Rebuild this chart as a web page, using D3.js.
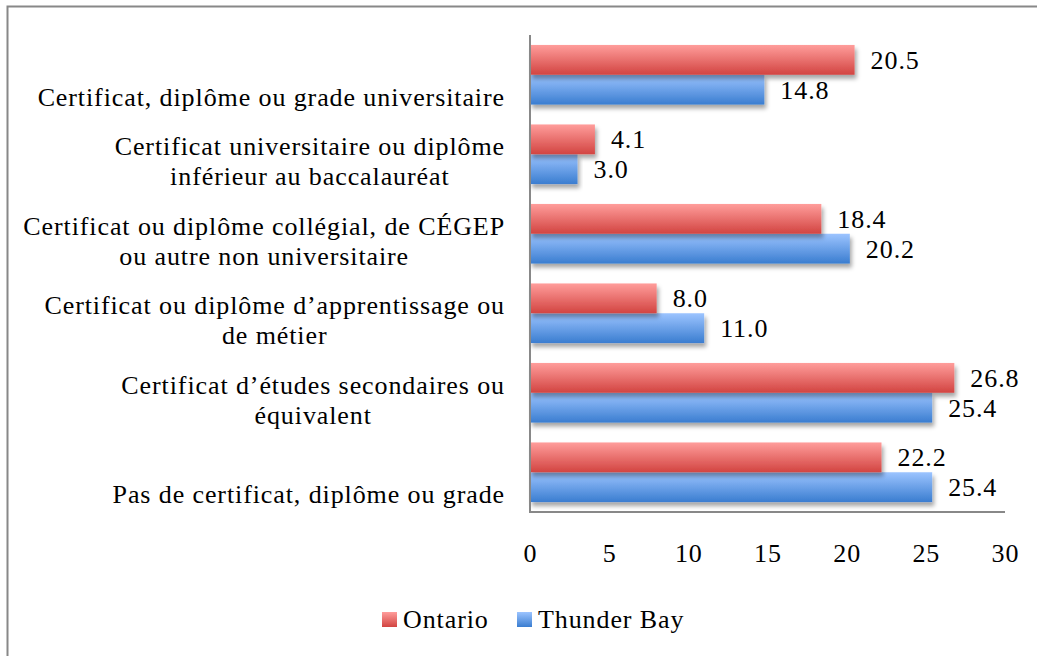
<!DOCTYPE html>
<html>
<head>
<meta charset="utf-8">
<script src="https://cdn.jsdelivr.net/npm/d3@7"></script>
<style>
  html, body { margin: 0; padding: 0; background: #fff; }
  svg { display: block; }
  text { font-family: "Liberation Serif", "DejaVu Serif", serif; fill: #000; letter-spacing: 0.9px; }
</style>
</head>
<body>
<svg id="chart" width="1037" height="656"></svg>
<script>
const categories = [
  ["Certificat, diplôme ou grade universitaire"],
  ["Certificat universitaire ou diplôme", "inférieur au baccalauréat"],
  ["Certificat ou diplôme collégial, de CÉGEP", "ou autre non universitaire"],
  ["Certificat ou diplôme d’apprentissage ou", "de métier"],
  ["Certificat d’études secondaires ou", "équivalent"],
  ["Pas de certificat, diplôme ou grade"]
];
const seriesNames = ["Ontario", "Thunder Bay"];
const ontario = [20.5, 4.1, 18.4, 8.0, 26.8, 22.2];
const thunderBay = [14.8, 3.0, 20.2, 11.0, 25.4, 25.4];
const xTicks = [0, 5, 10, 15, 20, 25, 30];

(function () {
const svg = d3.select("#chart");
const FS = 26;

// outer frame
svg.append("rect").attr("x", 7.5).attr("y", 6.5).attr("width", 1100).attr("height", 700)
  .attr("fill", "none").attr("stroke", "#888").attr("stroke-width", 2);

const defs = svg.append("defs");
function grad(id, c1, c2) {
  const g = defs.append("linearGradient").attr("id", id)
    .attr("x1", 0).attr("y1", 0).attr("x2", 0).attr("y2", 1);
  g.append("stop").attr("offset", "0%").attr("stop-color", c1);
  g.append("stop").attr("offset", "100%").attr("stop-color", c2);
}
grad("gRed", "#ff9d9b", "#d24441");
grad("gBlue", "#9cc4ff", "#3a7dd0");
const f = defs.append("filter").attr("id", "shadow")
  .attr("x", "-5%").attr("y", "-20%").attr("width", "115%").attr("height", "160%");
f.append("feDropShadow").attr("dx", 2).attr("dy", 4).attr("stdDeviation", 2)
  .attr("flood-color", "#000").attr("flood-opacity", 0.35);

const pLeft = 530, pRight = 1005, pTop = 35, pBottom = 512;
const x = d3.scaleLinear().domain([0, 30]).range([pLeft, pRight]);
const y = d3.scaleBand().domain(d3.range(categories.length)).range([pTop, pBottom])
  .paddingInner(0.25).paddingOuter(0.125);
const ySub = d3.scaleBand().domain(seriesNames).range([0, y.bandwidth()]);

const data = categories.map((c, i) => ({ i, vals: [
  { s: "Ontario", v: ontario[i] },
  { s: "Thunder Bay", v: thunderBay[i] }
]}));
const fills = { "Ontario": "url(#gRed)", "Thunder Bay": "url(#gBlue)" };

const groups = svg.append("g").selectAll("g").data(data).join("g")
  .attr("transform", d => `translate(0,${y(d.i)})`);

groups.selectAll("rect").data(d => d.vals.slice().reverse()).join("rect")
  .attr("x", x(0))
  .attr("y", d => ySub(d.s))
  .attr("width", d => x(d.v) - x(0))
  .attr("height", ySub.bandwidth())
  .attr("fill", d => fills[d.s])
  .attr("filter", "url(#shadow)");

groups.selectAll("text.val").data(d => d.vals).join("text")
  .attr("class", "val")
  .attr("x", d => x(d.v) + 16)
  .attr("y", d => ySub(d.s) + ySub.bandwidth() / 2 + 9)
  .attr("font-size", FS)
  .text(d => d.v.toFixed(1));

// axes
const axisG = svg.append("g");
axisG.append("line").attr("x1", pLeft).attr("x2", pLeft).attr("y1", pTop).attr("y2", pBottom + 1)
  .attr("stroke", "#888").attr("stroke-width", 2);
axisG.append("line").attr("x1", pLeft - 1).attr("x2", pRight).attr("y1", pBottom).attr("y2", pBottom)
  .attr("stroke", "#888").attr("stroke-width", 2);

const xAxis = d3.axisBottom(x).tickValues(xTicks).tickSize(0).tickPadding(0).tickFormat(d3.format("d"));
const xa = svg.append("g").attr("transform", `translate(0,${pBottom})`).call(xAxis);
xa.select(".domain").remove();
xa.selectAll("text").attr("font-size", FS).attr("font-family", "Liberation Serif, serif")
  .attr("fill", "#000").attr("dy", null).attr("y", 50);

// category labels
const labelRight = 505;
const lineH = 30;
const labG = svg.append("g");
categories.forEach((lines, i) => {
  const cy = y(i) + y.bandwidth() / 2;
  const t = labG.append("text").attr("font-size", FS);
  const tspans = lines.map(ln => t.append("tspan").text(ln));
  const widths = tspans.map(ts => ts.node().getComputedTextLength());
  const maxW = d3.max(widths);
  const cx = labelRight - maxW / 2;
  const n = lines.length;
  tspans.forEach((ts, k) => {
    ts.attr("x", cx).attr("text-anchor", "middle")
      .attr("y", cy + 31 - (n - 1 - k) * lineH);
  });
});

// legend
const legend = svg.append("g");
const legItems = [
  { s: "Ontario", x: 382 },
  { s: "Thunder Bay", x: 517 }
];
legItems.forEach(it => {
  legend.append("rect").attr("x", it.x).attr("y", 612).attr("width", 15).attr("height", 15)
    .attr("fill", fills[it.s]);
  legend.append("text").attr("x", it.x + 21).attr("y", 628).attr("font-size", FS).text(it.s);
});
})();
</script>
</body>
</html>
